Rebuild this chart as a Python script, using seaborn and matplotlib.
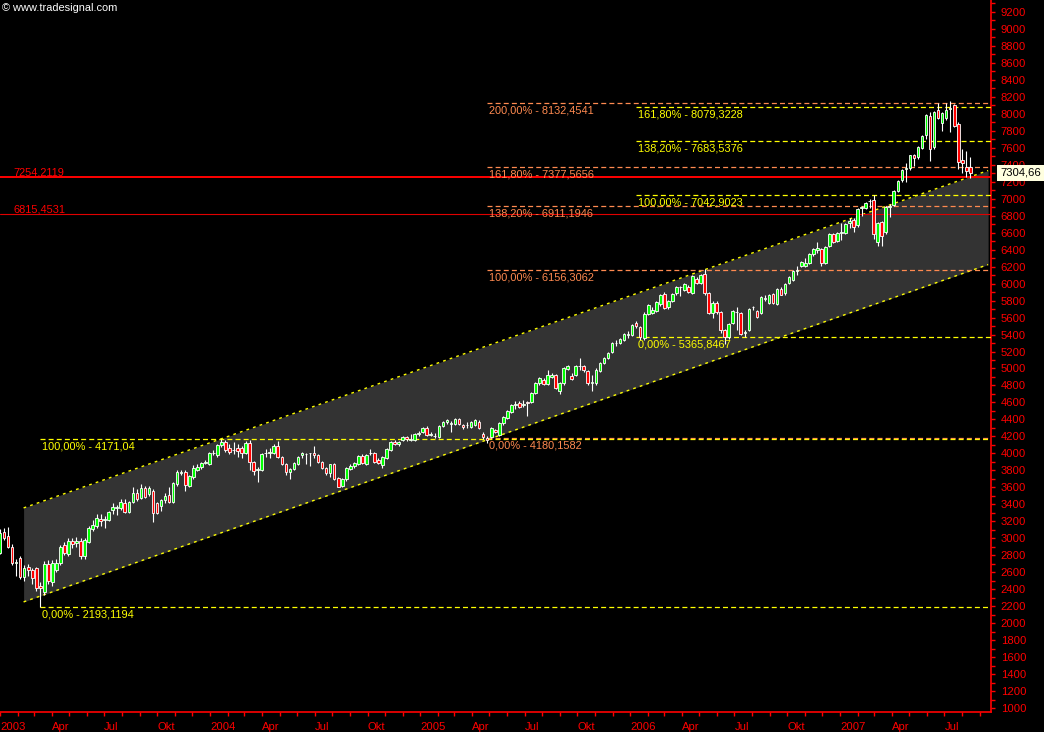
import matplotlib

matplotlib.use("Agg")

import matplotlib.dates as mdates
import numpy as np
import pandas as pd
import seaborn as sns
from matplotlib import font_manager
from matplotlib import pyplot as plt
from matplotlib.ticker import MultipleLocator

# weekly candles (open, high, low, close)
candles_2003 = [
    (2830, 3110, 2820, 3060), (3070, 3120, 2980, 3000), (3030, 3130, 2880, 2900),
    (2900, 2930, 2690, 2710), (2710, 2760, 2550, 2720), (2770, 2790, 2520, 2545),
    (2545, 2680, 2500, 2650), (2660, 2700, 2560, 2620), (2630, 2650, 2460, 2530),
    (2650, 2660, 2380, 2415), (2440, 2480, 2193, 2415), (2370, 2730, 2330, 2700),
    (2700, 2740, 2460, 2500), (2490, 2740, 2440, 2710), (2630, 2760, 2600, 2710),
    (2710, 2920, 2690, 2900), (2920, 2960, 2800, 2830), (2815, 3000, 2790, 2970),
    (2970, 3000, 2880, 2935), (2940, 3010, 2900, 2970), (2970, 3000, 2760, 2790),
    (2790, 3000, 2760, 2980), (2960, 3140, 2940, 3120), (3110, 3220, 3080, 3160),
    (3145, 3290, 3120, 3240), (3230, 3290, 3150, 3200), (3210, 3260, 3120, 3230),
    (3216, 3320, 3200, 3310), (3330, 3420, 3290, 3370), (3360, 3390, 3270, 3370),
    (3357, 3460, 3330, 3430), (3416, 3460, 3300, 3310), (3310, 3440, 3300, 3430),
    (3430, 3600, 3420, 3534), (3534, 3580, 3440, 3463), (3475, 3640, 3460, 3593),
    (3593, 3620, 3480, 3486), (3522, 3620, 3500, 3593), (3557, 3580, 3190, 3298),
    (3416, 3430, 3280, 3298), (3380, 3460, 3320, 3451), (3451, 3530, 3420, 3498),
    (3510, 3600, 3410, 3428), (3428, 3660, 3420, 3651), (3640, 3800, 3620, 3781),
    (3770, 3800, 3740, 3781), (3781, 3800, 3560, 3628), (3616, 3750, 3600, 3734),
    (3722, 3860, 3700, 3828), (3805, 3870, 3790, 3840), (3840, 3900, 3820, 3887),
    (3890, 3920, 3870, 3900), (3875, 4020, 3860, 4005),
]
candles_2004 = [
    (4000, 4040, 3980, 4010), (3982, 4110, 3960, 4100), (4100, 4170, 4080, 4135),
    (4135, 4160, 4020, 4040), (4060, 4110, 3990, 4020), (4040, 4130, 3990, 4045),
    (4060, 4110, 3960, 4030), (4064, 4090, 3940, 4005), (4005, 4140, 3990, 4123),
    (4123, 4160, 3800, 3899), (3899, 3910, 3750, 3793), (3800, 3840, 3663, 3810),
    (3805, 4000, 3790, 3993), (4000, 4050, 3960, 4010), (4005, 4060, 3940, 4017),
    (4005, 4110, 3990, 4087), (4087, 4150, 3940, 3958), (3958, 3970, 3860, 3875),
    (3875, 3890, 3740, 3781), (3781, 3830, 3700, 3816), (3816, 3900, 3800, 3887),
    (3875, 3970, 3860, 3958), (3982, 4020, 3950, 4005), (3990, 4010, 3880, 3995),
    (4000, 4010, 3850, 4005), (4005, 4090, 3950, 3982), (3982, 3990, 3890, 3899),
    (3899, 3910, 3810, 3828), (3828, 3840, 3750, 3769), (3769, 3880, 3720, 3875),
    (3875, 3890, 3690, 3699), (3710, 3720, 3600, 3604), (3616, 3710, 3600, 3699),
    (3699, 3840, 3680, 3828), (3816, 3870, 3800, 3852), (3852, 3900, 3830, 3887),
    (3875, 3980, 3860, 3970), (3970, 3990, 3870, 3887), (3875, 3990, 3860, 3982),
    (4000, 4050, 3980, 4005), (4005, 4020, 3890, 3899), (3920, 3950, 3870, 3887),
    (3864, 3970, 3830, 3958), (3946, 4060, 3930, 4052), (4040, 4140, 4030, 4135),
    (4135, 4160, 4100, 4110), (4105, 4150, 4090, 4135), (4158, 4200, 4140, 4193),
    (4190, 4210, 4150, 4165), (4160, 4230, 4140, 4170), (4158, 4240, 4150, 4229),
    (4230, 4260, 4200, 4235),
]
candles_2005 = [
    (4253, 4310, 4240, 4300), (4300, 4320, 4210, 4217), (4220, 4250, 4200, 4225),
    (4200, 4240, 4180, 4205), (4194, 4330, 4180, 4323), (4323, 4380, 4310, 4370),
    (4370, 4400, 4350, 4390), (4350, 4382, 4253, 4355), (4347, 4420, 4330, 4405),
    (4405, 4420, 4340, 4347), (4340, 4350, 4290, 4310), (4330, 4370, 4300, 4335),
    (4311, 4380, 4300, 4370), (4335, 4410, 4320, 4394), (4370, 4390, 4290, 4300),
    (4229, 4250, 4170, 4194), (4182, 4200, 4120, 4158), (4194, 4310, 4180, 4300),
    (4276, 4290, 4240, 4253), (4217, 4370, 4200, 4358), (4358, 4440, 4340, 4429),
    (4417, 4510, 4400, 4500), (4488, 4580, 4470, 4570), (4575, 4620, 4520, 4585),
    (4594, 4620, 4530, 4547), (4570, 4629, 4547, 4580), (4606, 4620, 4440, 4594),
    (4606, 4720, 4590, 4712), (4712, 4840, 4700, 4830), (4830, 4900, 4810, 4889),
    (4865, 4890, 4800, 4818), (4818, 4980, 4800, 4924), (4900, 4950, 4890, 4924),
    (4924, 4940, 4760, 4771), (4735, 4840, 4700, 4830), (4830, 5020, 4810, 5007),
    (4995, 5040, 4980, 5030), (4912, 4950, 4860, 4877), (4924, 5040, 4910, 5030),
    (5025, 5124, 4983, 5035), (5030, 5040, 4960, 4980), (4971, 4980, 4800, 4830),
    (4830, 4924, 4735, 4840), (4830, 5000, 4810, 4983), (4971, 5080, 4960, 5065),
    (5065, 5140, 5050, 5124), (5124, 5200, 5110, 5183), (5195, 5310, 5180, 5301),
    (5300, 5330, 5260, 5305), (5301, 5360, 5290, 5348), (5336, 5420, 5320, 5407),
    (5400, 5440, 5360, 5410),
]
candles_2006 = [
    (5395, 5520, 5380, 5513), (5540, 5560, 5480, 5500), (5489, 5500, 5330, 5371),
    (5360, 5660, 5340, 5643), (5643, 5760, 5630, 5748), (5655, 5720, 5640, 5690),
    (5678, 5790, 5660, 5784), (5760, 5880, 5740, 5866), (5878, 5900, 5700, 5713),
    (5725, 5810, 5700, 5796), (5796, 5890, 5780, 5878), (5890, 5970, 5870, 5960),
    (5955, 5970, 5850, 5965), (5925, 6010, 5910, 5996), (5960, 5980, 5890, 5901),
    (5890, 6100, 5880, 6090), (6055, 6080, 5990, 6008), (6008, 6110, 5990, 6102),
    (6114, 6172, 5870, 5890), (5890, 5900, 5640, 5655), (5655, 5790, 5600, 5772),
    (5772, 5790, 5640, 5666), (5666, 5680, 5420, 5454), (5454, 5470, 5290, 5371),
    (5371, 5540, 5350, 5525), (5537, 5690, 5520, 5678), (5670, 5725, 5454, 5665),
    (5655, 5670, 5390, 5407), (5415, 5454, 5371, 5425), (5454, 5710, 5440, 5701),
    (5720, 5740, 5690, 5725), (5678, 5690, 5600, 5607), (5655, 5850, 5640, 5843),
    (5820, 5860, 5790, 5830), (5772, 5880, 5760, 5866), (5878, 5890, 5760, 5772),
    (5760, 5950, 5750, 5937), (5937, 5960, 5860, 5866), (5890, 6010, 5870, 5996),
    (6008, 6090, 5990, 6079), (6043, 6160, 6030, 6149), (6150, 6208, 6102, 6160),
    (6208, 6270, 6190, 6255), (6208, 6300, 6190, 6243), (6243, 6360, 6230, 6349),
    (6349, 6420, 6330, 6408), (6400, 6490, 6360, 6415), (6408, 6420, 6210, 6243),
    (6243, 6440, 6230, 6432), (6443, 6600, 6430, 6585), (6585, 6600, 6480, 6490),
    (6502, 6610, 6490, 6597),
]
candles_2007 = [
    (6600, 6715, 6514, 6605), (6597, 6710, 6580, 6703), (6715, 6770, 6650, 6738),
    (6750, 6770, 6610, 6668), (6690, 6890, 6670, 6880), (6890, 6920, 6800, 6900),
    (6891, 6960, 6880, 6950), (6970, 7000, 6890, 6974), (6985, 7040, 6530, 6585),
    (6490, 6720, 6440, 6715), (6726, 6740, 6440, 6561), (6609, 6910, 6590, 6903),
    (6900, 6940, 6780, 6910), (6927, 7100, 6910, 7091), (7091, 7220, 7080, 7209),
    (7221, 7350, 7200, 7339), (7350, 7420, 7200, 7362), (7362, 7520, 7340, 7515),
    (7515, 7530, 7380, 7480), (7492, 7620, 7470, 7610), (7598, 7750, 7580, 7739),
    (7751, 8000, 7700, 7987), (7975, 8020, 7440, 7586), (7610, 8030, 7590, 8022),
    (8046, 8130, 7940, 7951), (7893, 8020, 7800, 8010), (7951, 8130, 7930, 8046),
    (8060, 8151, 7790, 8070), (8105, 8120, 7840, 7857), (7880, 7900, 7350, 7433),
    (7457, 7580, 7300, 7421), (7374, 7560, 7250, 7327), (7374, 7490, 7245, 7305),
]
first_week = "2003-01-01"

# trend channel (start / end date and price of both borders)
channel_dates = ["2003-02-11", "2007-09-15"]
channel_upper = [3357, 7332]
channel_lower = [2250, 6224]

# fibonacci projections: start date, percent labels, level texts
fib_2003_start = "2003-03-12"
fib_2003_pcts = ["0,00%", "100,00%"]
fib_2003_levels = ["2193,1194", "4171,04"]

fib_2005_start = "2005-04-27"
fib_2005_pcts = ["0,00%", "100,00%", "138,20%", "161,80%", "200,00%"]
fib_2005_levels = ["4180,1582", "6156,3062", "6911,1946", "7377,5656", "8132,4541"]

fib_2006_start = "2006-01-11"
fib_2006_pcts = ["0,00%", "100,00%", "138,20%", "161,80%"]
fib_2006_levels = ["5365,8467", "7042,9023", "7683,5376", "8079,3228"]

support_levels = ["7254,2119", "6815,4531"]
last_price = "7304,66"

price_ticks = list(range(1000, 9201, 200))
quarter_names = {4: "Apr", 7: "Jul", 10: "Okt"}
x_range = ["2003-01-01", "2007-09-20"]

YELLOW = "#ffff00"
ORANGE = "#ff8a50"
RED = "#ff0000"
FS = 7.9


def to_num(s):
    return mdates.date2num(pd.Timestamp(s))


def level(s):
    return float(s.replace(",", "."))


sns.set_theme(
    style="dark",
    rc={
        "figure.facecolor": "black",
        "axes.facecolor": "black",
        "savefig.facecolor": "black",
    },
)
installed = {f.name for f in font_manager.fontManager.ttflist}
font = "Liberation Sans" if "Liberation Sans" in installed else "DejaVu Sans"
plt.rcParams["font.family"] = [font, "DejaVu Sans"]

fig = plt.figure(figsize=(10.44, 7.32), dpi=100)
ax = fig.add_axes([0, 20 / 732, 991 / 1044, 712 / 732])
ax.set_facecolor("black")
ax.grid(False)

ohlc = pd.DataFrame(
    candles_2003 + candles_2004 + candles_2005 + candles_2006 + candles_2007,
    columns=["open", "high", "low", "close"],
)
ohlc["date"] = pd.date_range(first_week, periods=len(ohlc), freq="7D")
x = mdates.date2num(ohlc["date"])

# channel
cx = [to_num(d) for d in channel_dates]
ax.fill_between(cx, channel_lower, channel_upper, color="#333333", lw=0, zorder=1)
for border in (channel_upper, channel_lower):
    sns.lineplot(
        x=cx, y=border, ax=ax, color=YELLOW, lw=1,
        linestyle=(0, (2, 3)), zorder=3,
    )

# fibonacci lines with labels
right_edge = to_num(x_range[1])
groups = [
    (fib_2005_start, fib_2005_pcts, fib_2005_levels, ORANGE),
    (fib_2003_start, fib_2003_pcts, fib_2003_levels, YELLOW),
    (fib_2006_start, fib_2006_pcts, fib_2006_levels, YELLOW),
]
for start, pcts, levels, color in groups:
    for pct, txt in zip(pcts, levels):
        ax.hlines(level(txt), to_num(start), right_edge, color=color, lw=0.9,
                  linestyles=(0, (4, 2.5)), zorder=3)
        ax.annotate(f"{pct} - {txt}", xy=(to_num(start), level(txt)),
                    xytext=(1.5, -2.5), textcoords="offset pixels",
                    ha="left", va="top", color=color, fontsize=FS, zorder=6)

# horizontal support lines
for txt, lw, col in zip(support_levels, [1.4, 0.8], [RED, "#e00000"]):
    ax.axhline(level(txt), color=col, lw=lw, zorder=3)
    ax.annotate(txt, xy=(0, level(txt)), xycoords=("axes fraction", "data"),
                xytext=(13, 2), textcoords="offset pixels",
                ha="left", va="baseline", color=RED, fontsize=FS)

# candles
ax.vlines(x, ohlc["low"], ohlc["high"], color="white", lw=0.8, zorder=4)
body_col = np.where(ohlc["close"] > ohlc["open"], "#00ff00",
                    np.where(ohlc["close"] < ohlc["open"], RED, "white"))
ax.bar(x, (ohlc["close"] - ohlc["open"]).abs(),
       bottom=ohlc[["open", "close"]].min(axis=1),
       width=4.6, color=body_col, edgecolor="white", linewidth=0.6, zorder=5)

# axes
ax.set_xlim(to_num(x_range[0]), right_edge)
ax.set_ylim(953, 9341)
for side in ("top", "left"):
    ax.spines[side].set_visible(False)
for side in ("right", "bottom"):
    ax.spines[side].set_color(RED)
    ax.spines[side].set_linewidth(1.2)

ax.yaxis.tick_right()
ax.set_yticks(price_ticks, labels=[str(v) for v in price_ticks])
ax.yaxis.set_minor_locator(MultipleLocator(100))
ax.tick_params(axis="y", which="both", colors=RED, direction="out", length=3,
               width=1, pad=4, labelsize=FS + 0.2, right=True, left=False)

quarters = pd.date_range(x_range[0], x_range[1], freq="QS")
months = pd.date_range(x_range[0], x_range[1], freq="MS")
ax.set_xticks(mdates.date2num(quarters),
              labels=[str(q.year) if q.month == 1 else quarter_names[q.month]
                      for q in quarters],
              ha="left")
ax.set_xticks(mdates.date2num(months), minor=True)
ax.tick_params(axis="x", which="both", colors=RED, direction="out", length=3,
               width=1, pad=4, labelsize=FS + 0.2, bottom=True)
ax.set_xlabel("")
ax.set_ylabel("")

# last price box
ax.annotate(last_price, xy=(1, level(last_price)),
            xycoords=("axes fraction", "data"), xytext=(9, 0),
            textcoords="offset pixels", ha="left", va="center",
            color="black", fontsize=FS + 0.2, annotation_clip=False, zorder=7,
            bbox=dict(boxstyle="square,pad=0.25", fc="#ffffe0", ec="none"))

fig.text(2 / 1044, 1 - 3 / 732, "© www.tradesignal.com", color="white",
         fontsize=FS, ha="left", va="top")

fig.savefig("out.png", dpi=100, facecolor="black")
